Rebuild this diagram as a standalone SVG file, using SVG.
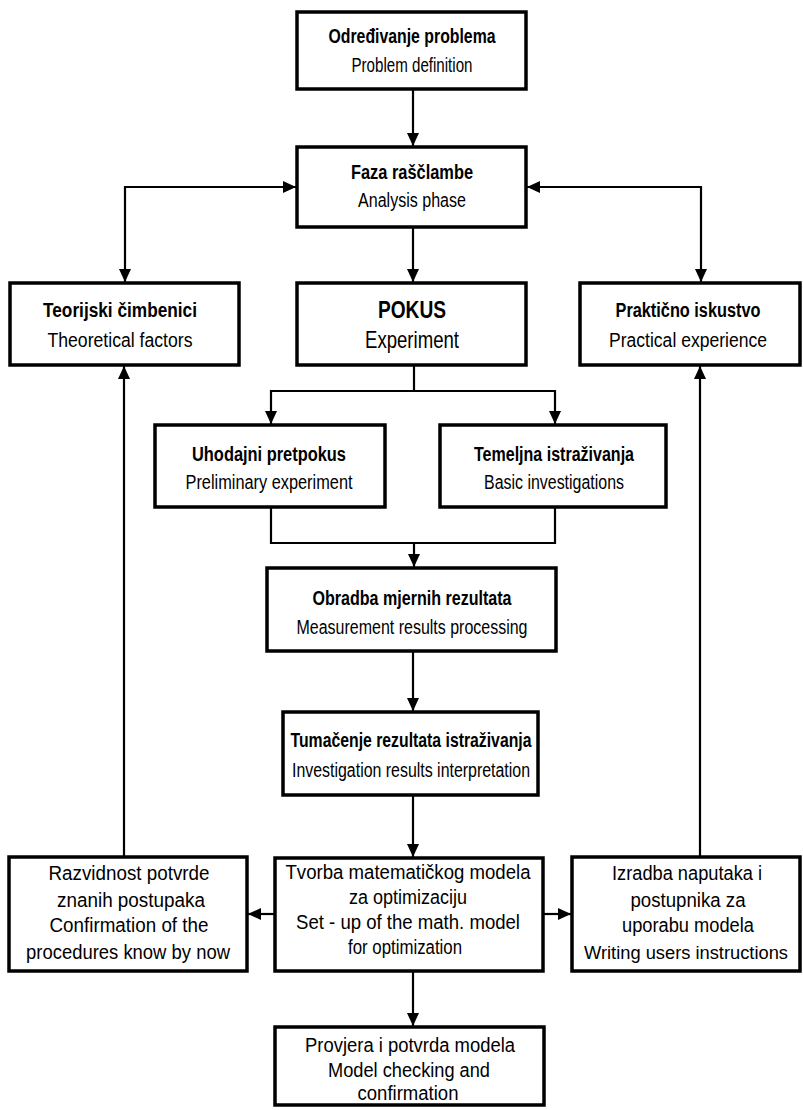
<svg xmlns="http://www.w3.org/2000/svg" width="803" height="1110" viewBox="0 0 803 1110">
<style>
.box{fill:#fff;stroke:#000;stroke-width:3.5}
.t{font-family:"Liberation Sans",Arial,sans-serif;font-size:20px;text-anchor:middle;fill:#000}
.b{font-weight:bold}
.big{font-size:24px}
.sm{font-size:18px}
.c{fill:none;stroke:#000;stroke-width:2.2}
</style>
<defs>
<marker id="ah" markerUnits="userSpaceOnUse" markerWidth="14" markerHeight="14" viewBox="0 0 14 14" refX="13" refY="7" orient="auto-start-reverse">
<path d="M0,1 L13,7 L0,13 Z" fill="#000"/>
</marker>
</defs>
<rect width="803" height="1110" fill="#fff"/>
<g id="connectors">
<path class="c" d="M413,89 V146" marker-end="url(#ah)"/>
<path class="c" d="M413,227 V282" marker-end="url(#ah)"/>
<path class="c" d="M296,187 H125 V282" marker-start="url(#ah)" marker-end="url(#ah)"/>
<path class="c" d="M527,187 H701 V282" marker-start="url(#ah)" marker-end="url(#ah)"/>
<path class="c" d="M414,365 V391 H271 V424" marker-end="url(#ah)"/>
<path class="c" d="M414,391 H555 V424" marker-end="url(#ah)"/>
<path class="c" d="M271,507 V543 H555 V507"/>
<path class="c" d="M414,543 V567" marker-end="url(#ah)"/>
<path class="c" d="M413,651 V711" marker-end="url(#ah)"/>
<path class="c" d="M413,795 V857" marker-end="url(#ah)"/>
<path class="c" d="M275,914 H248" marker-end="url(#ah)"/>
<path class="c" d="M543,914 H571" marker-end="url(#ah)"/>
<path class="c" d="M413,971 V1026" marker-end="url(#ah)"/>
<path class="c" d="M124,857 V366" marker-end="url(#ah)"/>
<path class="c" d="M700,857 V366" marker-end="url(#ah)"/>
</g>
<g id="n-problem">
<rect class="box" x="297" y="12" width="229" height="77"/>
<text class="t b" x="412" y="43" textLength="167" lengthAdjust="spacingAndGlyphs">Određivanje problema</text>
<text class="t" x="412" y="72" textLength="121" lengthAdjust="spacingAndGlyphs">Problem definition</text>
</g>
<g id="n-analysis">
<rect class="box" x="297" y="147" width="229" height="80"/>
<text class="t b" x="412" y="179" textLength="122" lengthAdjust="spacingAndGlyphs">Faza raščlambe</text>
<text class="t" x="412" y="207" textLength="108" lengthAdjust="spacingAndGlyphs">Analysis phase</text>
</g>
<g id="n-theory">
<rect class="box" x="10" y="283" width="229" height="82"/>
<text class="t b" x="120" y="317" textLength="154" lengthAdjust="spacingAndGlyphs">Teorijski čimbenici</text>
<text class="t" x="120" y="347" textLength="145" lengthAdjust="spacingAndGlyphs">Theoretical factors</text>
</g>
<g id="n-experiment">
<rect class="box" x="297" y="283" width="229" height="82"/>
<text class="t b big" x="412" y="318" textLength="68" lengthAdjust="spacingAndGlyphs">POKUS</text>
<text class="t big" x="412" y="348" textLength="94" lengthAdjust="spacingAndGlyphs">Experiment</text>
</g>
<g id="n-practice">
<rect class="box" x="580" y="283" width="220" height="82"/>
<text class="t b" x="688" y="317" textLength="145" lengthAdjust="spacingAndGlyphs">Praktično iskustvo</text>
<text class="t" x="688" y="347" textLength="158" lengthAdjust="spacingAndGlyphs">Practical experience</text>
</g>
<g id="n-preliminary">
<rect class="box" x="155" y="425" width="230" height="82"/>
<text class="t b" x="269" y="461" textLength="154" lengthAdjust="spacingAndGlyphs">Uhodajni pretpokus</text>
<text class="t" x="269" y="489" textLength="167" lengthAdjust="spacingAndGlyphs">Preliminary experiment</text>
</g>
<g id="n-basic">
<rect class="box" x="440" y="425" width="226" height="82"/>
<text class="t b" x="554" y="461" textLength="160" lengthAdjust="spacingAndGlyphs">Temeljna istraživanja</text>
<text class="t" x="554" y="489" textLength="140" lengthAdjust="spacingAndGlyphs">Basic investigations</text>
</g>
<g id="n-processing">
<rect class="box" x="267" y="568" width="289" height="83"/>
<text class="t b" x="412" y="605" textLength="199" lengthAdjust="spacingAndGlyphs">Obradba mjernih rezultata</text>
<text class="t" x="412" y="634" textLength="231" lengthAdjust="spacingAndGlyphs">Measurement results processing</text>
</g>
<g id="n-interpretation">
<rect class="box" x="283" y="712" width="255" height="83"/>
<text class="t b" x="411" y="747" textLength="241" lengthAdjust="spacingAndGlyphs">Tumačenje rezultata istraživanja</text>
<text class="t" x="411" y="777" textLength="238" lengthAdjust="spacingAndGlyphs">Investigation results interpretation</text>
</g>
<g id="n-confirmation">
<rect class="box" x="9" y="857" width="238" height="114"/>
<text class="t" x="129" y="880" textLength="161" lengthAdjust="spacingAndGlyphs">Razvidnost potvrde</text>
<text class="t" x="131" y="907" textLength="148" lengthAdjust="spacingAndGlyphs">znanih postupaka</text>
<text class="t" x="129" y="932" textLength="159" lengthAdjust="spacingAndGlyphs">Confirmation of the</text>
<text class="t" x="128" y="959" textLength="204" lengthAdjust="spacingAndGlyphs">procedures know by now</text>
</g>
<g id="n-model">
<rect class="box" x="275" y="858" width="268" height="113"/>
<text class="t" x="408" y="879" textLength="245" lengthAdjust="spacingAndGlyphs">Tvorba matematičkog modela</text>
<text class="t" x="408" y="904" textLength="118" lengthAdjust="spacingAndGlyphs">za optimizaciju</text>
<text class="t" x="408" y="929" textLength="224" lengthAdjust="spacingAndGlyphs">Set - up of the math. model</text>
<text class="t" x="405" y="954" textLength="114" lengthAdjust="spacingAndGlyphs">for optimization</text>
</g>
<g id="n-instructions">
<rect class="box" x="572" y="857" width="228" height="114"/>
<text class="t" x="687" y="880" textLength="150" lengthAdjust="spacingAndGlyphs">Izradba naputaka i</text>
<text class="t" x="688" y="907" textLength="115" lengthAdjust="spacingAndGlyphs">postupnika za</text>
<text class="t" x="688" y="932" textLength="132" lengthAdjust="spacingAndGlyphs">uporabu modela</text>
<text class="t sm" x="686" y="959" textLength="204" lengthAdjust="spacingAndGlyphs">Writing users instructions</text>
</g>
<g id="n-check">
<rect class="box" x="275" y="1027" width="269" height="78"/>
<text class="t" x="410" y="1052" textLength="210" lengthAdjust="spacingAndGlyphs">Provjera i potvrda modela</text>
<text class="t" x="409" y="1077" textLength="162" lengthAdjust="spacingAndGlyphs">Model checking and</text>
<text class="t" x="408" y="1100" textLength="101" lengthAdjust="spacingAndGlyphs">confirmation</text>
</g>
</svg>
